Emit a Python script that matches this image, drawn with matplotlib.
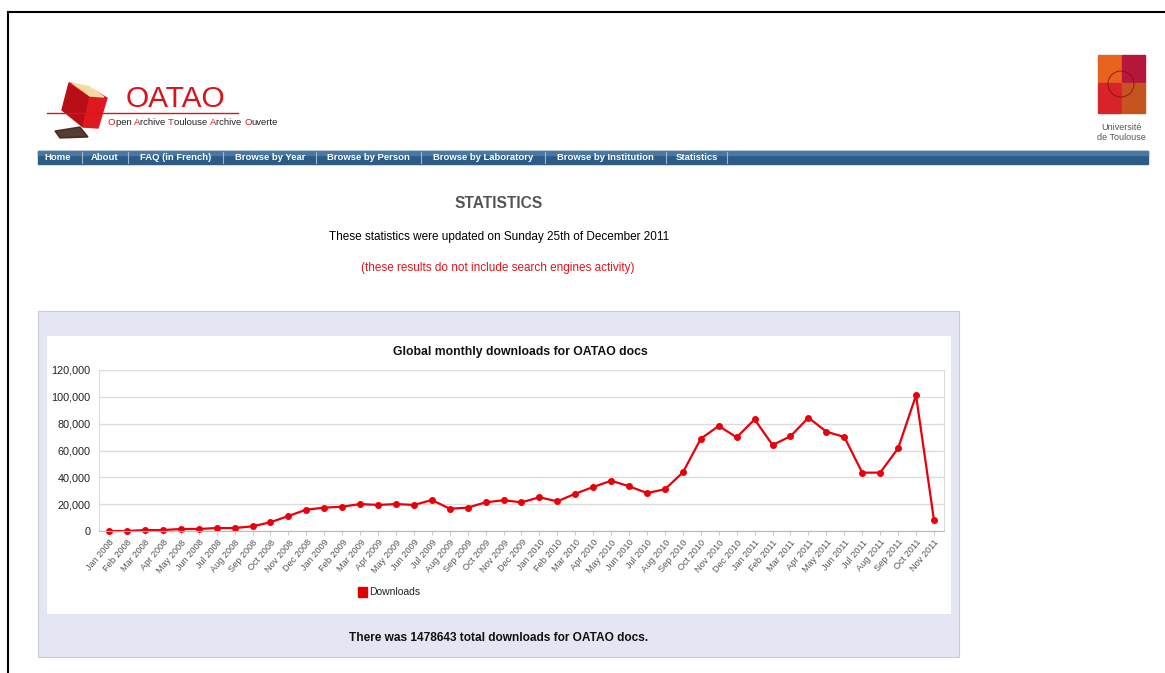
import matplotlib.pyplot as plt
from matplotlib.patches import Rectangle, Polygon, Circle
from matplotlib.ticker import FuncFormatter

plt.rcParams['font.family'] = ['Liberation Sans', 'DejaVu Sans']

# monthly downloads
months = ['Jan', 'Feb', 'Mar', 'Apr', 'May', 'Jun',
          'Jul', 'Aug', 'Sep', 'Oct', 'Nov', 'Dec']
labels = [m + ' ' + str(y) for y in (2008, 2009, 2010, 2011) for m in months][:47]
downloads = [0, 0, 700, 700, 1500, 1500, 2200, 2200, 3500, 6500, 11200, 15900,
             17400, 18100, 20100, 19400, 20100, 19400, 23100, 16600, 17400, 21400, 22900, 21400,
             25100, 22100, 27800, 32800, 37500, 33300, 28300, 31100, 43700, 68800, 78300, 69800,
             83200, 64100, 70600, 84500, 74000, 70100, 43500, 43500, 61600, 101100, 8200]
yticks = [0, 20000, 40000, 60000, 80000, 100000, 120000]
nav_items = ['Home', 'About', 'FAQ (in French)', 'Browse by Year', 'Browse by Person',
             'Browse by Laboratory', 'Browse by Institution', 'Statistics']
nav_centers = [58, 105, 176, 270, 368, 483, 605, 697]
total = 1478643

W, H = 1165, 673
fig = plt.figure(figsize=(W / 100, H / 100), dpi=100)
renderer = fig.canvas.get_renderer()

# page layer in pixel coordinates
bg = fig.add_axes([0, 0, 1, 1], zorder=0)
bg.set_xlim(0, W)
bg.set_ylim(H, 0)
bg.axis('off')

# page frame
bg.plot([8, W], [12, 12], color='black', lw=1.5)
bg.plot([8, 8], [12, H], color='black', lw=1.5)

# OATAO logo
bg.add_patch(Polygon([[55, 131], [80, 127], [88, 137], [60, 138]], closed=True, color='#3a1a10', alpha=0.85))
bg.add_patch(Polygon([[69, 83], [62, 110], [83, 127], [90, 96]], closed=True, color='#b80f16'))
bg.add_patch(Polygon([[69, 83], [90, 96], [83, 127], [98, 128], [107, 98], [88, 87]],
                     closed=True, color='#e0181f'))
bg.add_patch(Polygon([[72, 83], [88, 86], [104, 97], [90, 96]], closed=True, color='#f6e4a8', alpha=0.95))
bg.text(126, 107, 'OATAO', color='#d9141b', fontsize=21.5, va='baseline')
bg.plot([47, 238], [113, 113], color='#d9141b', lw=1)
x0 = 108
for part, col in [('O', '#d9141b'), ('pen ', '#222'), ('A', '#d9141b'), ('rchive ', '#222'),
                  ('T', '#d9141b'), ('oulouse ', '#222'), ('A', '#d9141b'), ('rchive ', '#222'),
                  ('O', '#d9141b'), ('uverte', '#222')]:
    t = bg.text(x0, 125, part.replace(' ', '\u00a0'), color=col, fontsize=6.8, va='baseline')
    x0 += t.get_window_extent(renderer=renderer).width

# Universite de Toulouse logo
bg.add_patch(Rectangle((1098, 55), 23, 27, color='#e8641e'))
bg.add_patch(Rectangle((1122, 55), 23, 27, color='#b8173c'))
bg.add_patch(Rectangle((1098, 83), 23, 30, color='#d9232a'))
bg.add_patch(Rectangle((1122, 83), 23, 30, color='#c5541f'))
bg.add_patch(Circle((1121, 84), 13, fill=False, edgecolor='#7a1010', lw=0.8, alpha=0.7))
bg.text(1121, 130, 'Université', ha='center', fontsize=6.5, color='#555')
bg.text(1121, 140, 'de Toulouse', ha='center', fontsize=6.5, color='#555')

# navigation bar
bg.add_patch(Rectangle((38, 151), 1110, 13, color='#2d5b87'))
bg.add_patch(Rectangle((38, 151), 1110, 4, color='#4b78a3'))
for name, cx in zip(nav_items, nav_centers):
    bg.text(cx, 158, name, ha='center', va='center', color='white', fontsize=6.8, fontweight='bold')
for sx in [82, 128, 223, 316, 421, 545, 666, 727]:
    bg.plot([sx, sx], [152, 163], color='#9fb6cc', lw=0.8)

# headings
bg.text(499, 203, 'STATISTICS', ha='center', va='center', fontsize=11.2, fontweight='bold', color='#555')
bg.text(499, 237, 'These statistics were updated on Sunday 25th of December 2011',
        ha='center', va='center', fontsize=8.5, color='black')
bg.text(498, 268, '(these results do not include search engines activity)',
        ha='center', va='center', fontsize=8.5, color='#e0161c')

# chart panel
bg.add_patch(Rectangle((38, 311), 921, 346, facecolor='#e4e6f3', edgecolor='#c9cbd6', lw=0.8))
bg.add_patch(Rectangle((47, 336), 904, 278, facecolor='white', edgecolor='none'))
bg.text(520, 352, 'Global monthly downloads for OATAO docs', ha='center', va='center',
        fontsize=8.8, fontweight='bold', color='#111')
bg.add_patch(Rectangle((358, 587), 9, 10, color='#e00000'))
bg.text(369, 592, 'Downloads', va='center', fontsize=7.5, color='#222')
bg.text(499, 638, 'There was %d total downloads for OATAO docs.' % total, ha='center', va='center',
        fontsize=8.6, fontweight='bold', color='#111')

# the chart itself
ax = fig.add_axes([99 / W, 1 - 531 / H, 845 / W, 161 / H], zorder=2)
ax.set_facecolor('none')
x = list(range(len(downloads)))
ax.plot(x, downloads, color='#e8000b', lw=1.6, marker='o', markersize=4, clip_on=False)
ax.set_xlim(-0.56, len(downloads) - 1 + 0.56)
ax.set_ylim(0, 120000)
ax.set_yticks(yticks)
ax.yaxis.set_major_formatter(FuncFormatter(lambda v, p: '{:,}'.format(int(v))))
ax.set_xticks(x)
ax.set_xticklabels(labels, rotation=50, ha='right', rotation_mode='anchor', fontsize=6.6, color='#555')
ax.tick_params(axis='y', length=0, labelsize=7.8, labelcolor='#222', pad=6)
ax.tick_params(axis='x', length=3, color='#ccc', pad=2)
ax.grid(axis='y', color='#dcdcdc', lw=1)
ax.set_axisbelow(True)
for side in ['top', 'left', 'right']:
    ax.spines[side].set_color('#dcdcdc')
ax.spines['bottom'].set_color('#bbbbbb')

fig.savefig('out.png', dpi=100)
